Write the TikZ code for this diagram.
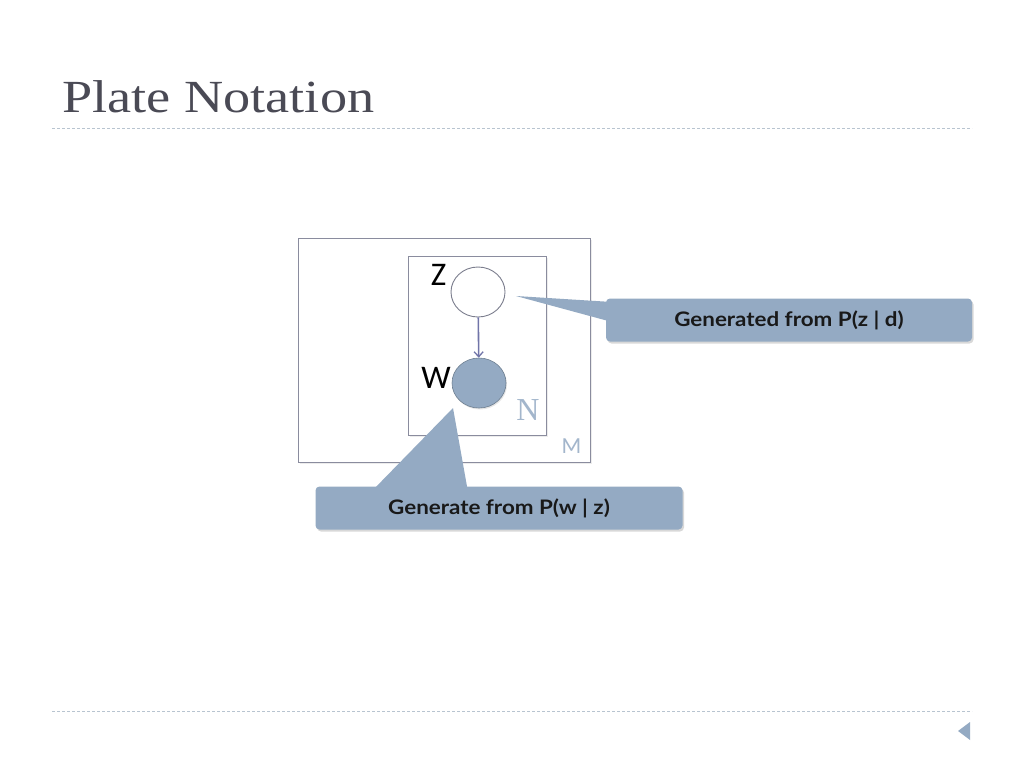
\documentclass[tikz,border=0pt]{standalone}
\usepackage{fontspec}
\setmainfont{Liberation Serif}
\newfontfamily\lato[FakeStretch=1.12]{Lato}
\newfontfamily\carl{Carlito}
\newfontfamily\titlefont[FakeStretch=1.18]{Liberation Serif}
\usetikzlibrary{shadows,arrows.meta,shapes.geometric}
\definecolor{titlec}{HTML}{4A4A55}
\definecolor{rulec}{HTML}{B8C4D0}
\definecolor{platec}{HTML}{8A8C9E}
\definecolor{labc}{HTML}{A3B6CC}
\definecolor{fillc}{HTML}{94AAC3}
\definecolor{arrc}{HTML}{7074A8}
\tikzset{
  plate/.style={draw=platec, line width=1.3pt, drop shadow={opacity=0.15, shadow xshift=1.5pt, shadow yshift=-1.5pt}, fill=white},
  callout/.style={fill=fillc, rounded corners=4pt, drop shadow={opacity=0.3, shadow xshift=1.5pt, shadow yshift=-2pt}, minimum height=43pt, inner sep=0pt, font=\lato\bfseries\fontsize{20}{24}\selectfont, text=black!90},
  rv/.style={ellipse, minimum width=54pt, minimum height=50pt, inner sep=0pt, draw=platec!90!black, line width=0.9pt},
  vlabel/.style={font=\carl\fontsize{33}{38}\selectfont, text=black, inner sep=0pt},
  dashrule/.style={draw=rulec, dashed, dash pattern=on 3pt off 2pt, line width=0.8pt}
}
\begin{document}
\begin{tikzpicture}[x=1pt,y=-1pt]
\useasboundingbox[fill=white] (0,0) rectangle (1024,768);
% title
\node[anchor=base west, inner sep=0pt, text=titlec, font=\titlefont\fontsize{46}{52}\selectfont] (title) at (62,112) {Plate Notation};
\coordinate (r1a) at (52,128); \coordinate (r1b) at (972,128);
\draw[dashrule] (r1a) -- (r1b);
\coordinate (r2a) at (52,711); \coordinate (r2b) at (972,711);
\draw[dashrule] (r2a) -- (r2b);
\coordinate (t1) at (958,731); \coordinate (t2) at (970,722); \coordinate (t3) at (970,740);
\fill[fillc] (t1) -- (t2) -- (t3) -- cycle;
% plates
\node[plate, anchor=north west, minimum width=292pt, minimum height=224pt, inner sep=0pt] (M) at (298,238) {};
\node[anchor=base, text=labc, inner sep=0pt, font=\carl\fontsize{23}{26}\selectfont] (Ml) at (571.5,453) {M};
\node[plate, anchor=north west, minimum width=138pt, minimum height=179pt, inner sep=0pt] (N) at (408,256) {};
\node[anchor=base, text=labc, inner sep=0pt, font=\fontsize{32}{36}\selectfont] (Nl) at (528,420) {N};
% callout pointers (behind)
\coordinate (p1tip) at (516,296);
\coordinate (p1a) at (612,302); \coordinate (p1b) at (612,322);
\fill[fillc] (p1tip) -- (p1a) -- (p1b) -- cycle;
\coordinate (p2tip) at (453,408);
\coordinate (p2a) at (371,492); \coordinate (p2b) at (468,492);
\fill[fillc] (p2tip) -- (p2a) -- (p2b) -- cycle;
% variables
\node[rv, fill=white] (Z) at (478,292) {};
\node[rv, fill=fillc, draw=fillc!75!black, line width=0.6pt, drop shadow={opacity=0.2, shadow xshift=1pt, shadow yshift=-1.5pt}] (W) at (479,383) {};
\node[vlabel, anchor=base] (Zl) at (438.5,285) {Z};
\node[vlabel, anchor=base] (Wl) at (436,388) {W};
\draw[-{Straight Barb[length=5pt,width=9pt,line width=1.3pt]}, draw=arrc, line width=1.6pt] (Z) -- (W);
% callouts
\node[callout, minimum width=366pt] (c1) at (789,320) {Generated from P(z | d)};
\node[callout, minimum width=367pt] (c2) at (499,508) {Generate from P(w | z)};
\end{tikzpicture}
\end{document}
